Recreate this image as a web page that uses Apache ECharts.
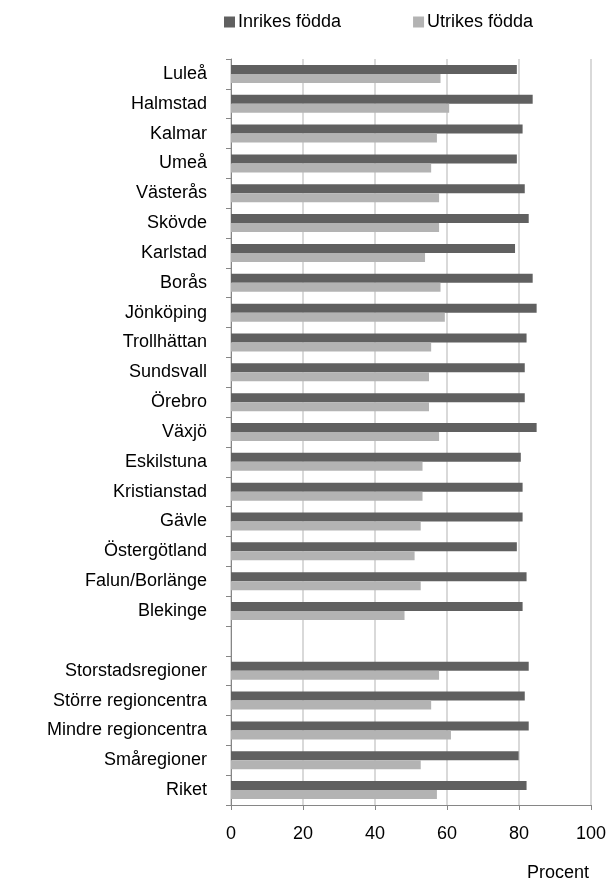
<!DOCTYPE html>
<html>
<head>
<meta charset="utf-8">
<script src="https://cdn.jsdelivr.net/npm/echarts@6/dist/echarts.min.js"></script>
<style>
html, body { margin: 0; padding: 0; background: #fff; }
#main { width: 610px; height: 886px; }
</style>
</head>
<body>
<div id="main"></div>
<script>
// regioner, uppifrån och ned (tom rad = mellanrum)
var regioner = ['Luleå', 'Halmstad', 'Kalmar', 'Umeå', 'Västerås', 'Skövde', 'Karlstad', 'Borås',
	'Jönköping', 'Trollhättan', 'Sundsvall', 'Örebro', 'Växjö', 'Eskilstuna', 'Kristianstad',
	'Gävle', 'Östergötland', 'Falun/Borlänge', 'Blekinge', '',
	'Storstadsregioner', 'Större regioncentra', 'Mindre regioncentra', 'Småregioner', 'Riket'];
var inrikes = [79.4, 83.8, 81.0, 79.4, 81.6, 82.7, 78.9, 83.8, 84.9, 82.1, 81.6, 81.6, 84.9,
	80.5, 81.0, 81.0, 79.4, 82.1, 81.0, null, 82.7, 81.6, 82.7, 79.9, 82.1];
var utrikes = [58.2, 60.6, 57.2, 55.6, 57.8, 57.8, 53.9, 58.2, 59.4, 55.6, 55.0, 55.0, 57.8,
	53.2, 53.2, 52.7, 51.0, 52.7, 48.2, null, 57.8, 55.6, 61.1, 52.7, 57.2];
var xTicks = [0, 20, 40, 60, 80, 100];

var font = '"Liberation Sans", Arial, sans-serif';
var myChart = echarts.init(document.getElementById('main'));
myChart.setOption({
	animation: false,
	textStyle: { fontFamily: font },
	title: {
		text: 'Procent',
		right: 16,
		top: 859,
		textStyle: { fontFamily: font, fontSize: 18, fontWeight: 'normal', color: '#000' }
	},
	legend: {
		data: ['Inrikes födda', 'Utrikes födda'],
		left: 219,
		top: 8,
		icon: 'rect',
		itemWidth: 11,
		itemHeight: 11,
		itemGap: 72,
		textStyle: { fontFamily: font, fontSize: 18, color: '#000', padding: [0, 0, 0, -2] }
	},
	grid: {
		left: 231,
		right: 19,
		top: 59,
		bottom: 81
	},
	xAxis: {
		type: 'value',
		min: xTicks[0],
		max: xTicks[xTicks.length - 1],
		interval: 20,
		axisLine: { show: true, lineStyle: { color: '#868686', width: 1 } },
		axisTick: { show: true, length: 5, lineStyle: { color: '#868686' } },
		axisLabel: { margin: 20, fontSize: 18, color: '#000', fontFamily: font },
		splitLine: { show: true, lineStyle: { color: '#d9d9d9', width: 2 } }
	},
	yAxis: {
		type: 'category',
		data: regioner,
		inverse: true,
		axisLine: { show: true, lineStyle: { color: '#868686', width: 1 } },
		axisTick: { show: true, length: 5, lineStyle: { color: '#868686' } },
		axisLabel: { margin: 24, fontSize: 18, color: '#000', fontFamily: font, interval: 0 },
		splitLine: { show: false }
	},
	series: [{
		name: 'Inrikes födda',
		type: 'bar',
		data: inrikes,
		barWidth: 9,
		barGap: '0%',
		itemStyle: { color: '#606060' }
	}, {
		name: 'Utrikes födda',
		type: 'bar',
		data: utrikes,
		barWidth: 9,
		itemStyle: { color: '#b3b3b3' }
	}]
});
</script>
</body>
</html>
